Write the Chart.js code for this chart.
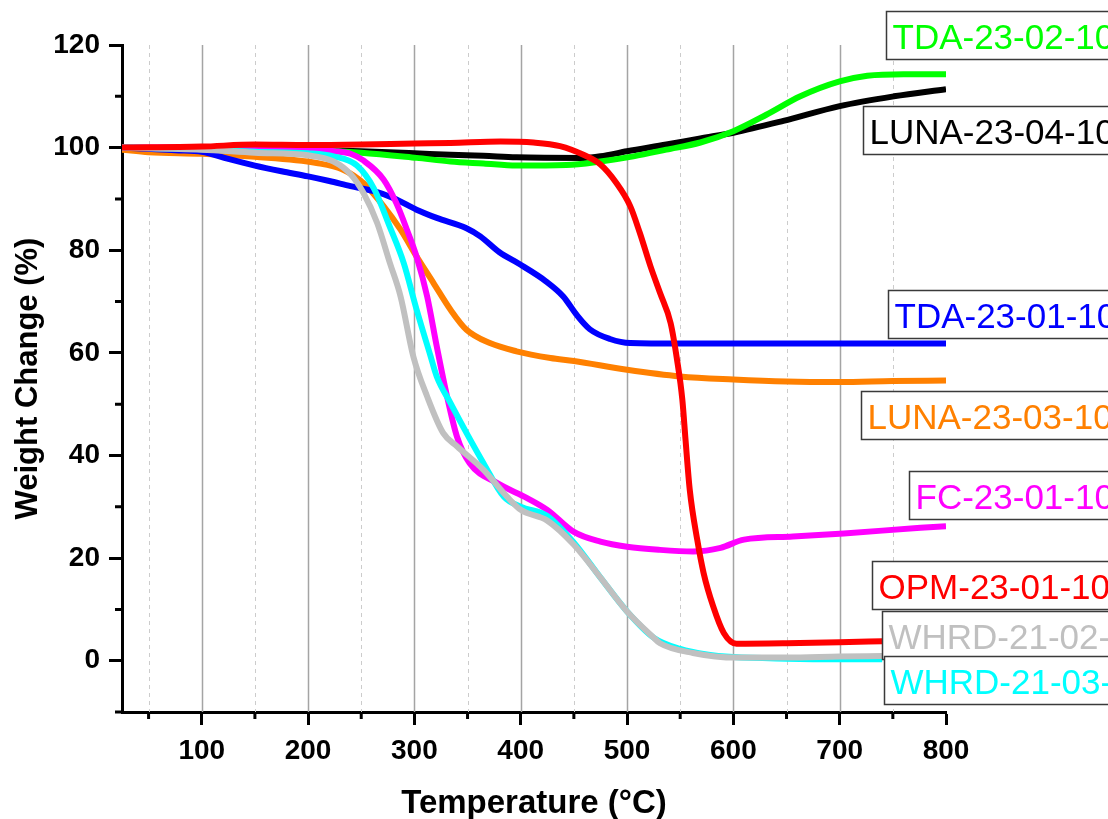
<!DOCTYPE html>
<html>
<head>
<meta charset="utf-8">
<title>TGA weight change</title>
<script src="https://cdn.jsdelivr.net/npm/chart.js@4.4.1/dist/chart.umd.min.js"></script>
<style>
  html, body { margin: 0; padding: 0; background: #ffffff; }
  canvas { display: block; }
</style>
</head>
<body>
<canvas id="tgaChart" width="1108" height="819"></canvas>
<script>
// temperature (°C) and weight change (%) read for each sample

var opmTemp = [25, 100, 150, 200, 250, 300, 334, 381, 412, 437, 459, 475, 490, 503, 512, 522, 531, 541, 547, 552, 555, 559, 566, 572, 581, 591, 603, 650, 700, 740];
var opmWeight = [100, 100.2, 100.6, 100.5, 100.6, 100.8, 100.9, 101.2, 101.0, 100.3, 98.6, 96.7, 93.1, 88.6, 83.4, 76.9, 71.7, 65.8, 58.7, 50.9, 43.1, 33.3, 23.6, 17.1, 10.6, 5.4, 3.3, 3.4, 3.6, 3.8];

var whrd2102Temp = [25, 100, 150, 200, 224, 240, 252, 265, 277, 287, 299, 312, 327, 340, 365, 387, 400, 425, 450, 475, 500, 525, 531, 562, 603, 650, 700, 740];
var whrd2102Weight = [100, 99.6, 99.0, 98.5, 97.3, 94.8, 91.2, 85.3, 77.5, 71.0, 59.3, 51.5, 44.4, 41.8, 37.2, 32.0, 29.4, 27.3, 22.6, 16.2, 9.6, 4.5, 3.4, 1.5, 0.6, 0.6, 0.8, 0.9];

var whrd2103Temp = [25, 100, 150, 200, 224, 246, 262, 277, 290, 302, 315, 321, 334, 349, 365, 384, 400, 425, 450, 475, 500, 525, 550, 575, 600, 650, 700, 740];
var whrd2103Weight = [100, 99.7, 99.2, 98.9, 98.3, 96.5, 92.0, 84.5, 77.5, 68.5, 59.5, 55.4, 50.2, 44.4, 38.5, 32.0, 30.0, 28.2, 23.0, 16.2, 9.6, 4.5, 2.3, 1.2, 0.7, 0.4, 0.3, 0.3];

var fc2301Temp = [25, 100, 150, 200, 225, 240, 252, 271, 283, 293, 302, 312, 321, 330, 340, 352, 378, 406, 425, 450, 475, 500, 531, 562, 588, 610, 656, 704, 776, 800];
var fc2301Weight = [100, 100.1, 100.0, 99.7, 99.3, 98.8, 97.5, 93.8, 89.2, 84.0, 78.8, 71.0, 61.3, 52.2, 43.7, 38.5, 34.6, 31.7, 29.4, 25.1, 23.2, 22.2, 21.6, 21.3, 22.0, 23.6, 24.2, 24.8, 25.9, 26.2];

var tda2301Temp = [25, 50, 75, 100, 125, 150, 175, 200, 220, 240, 262, 280, 302, 321, 349, 362, 380, 398, 424, 440, 453, 465, 484, 503, 550, 600, 700, 800];
var tda2301Weight = [100, 99.8, 99.5, 99.2, 97.8, 96.5, 95.4, 94.4, 93.5, 92.5, 91.5, 90.2, 87.9, 86.3, 84.3, 82.7, 79.6, 77.4, 73.9, 71.0, 67.3, 64.6, 62.7, 61.9, 61.8, 61.8, 61.8, 61.8];

var luna2303Temp = [25, 50, 100, 150, 208, 233, 252, 271, 287, 302, 318, 334, 349, 371, 396, 428, 450, 500, 550, 600, 650, 700, 750, 800];
var luna2303Weight = [99.6, 99.1, 98.8, 98.2, 97.0, 95.7, 93.1, 88.6, 84.0, 78.8, 73.6, 68.4, 64.5, 61.9, 60.3, 59.0, 58.4, 56.7, 55.4, 54.8, 54.4, 54.3, 54.5, 54.6];

var tda2302Temp = [25, 100, 200, 250, 302, 334, 365, 396, 443, 475, 506, 537, 569, 600, 631, 663, 700, 726, 760, 800];
var tda2302Weight = [100, 99.8, 99.5, 99.0, 98.0, 97.3, 96.9, 96.5, 96.6, 97.3, 98.3, 99.6, 101.0, 103.2, 106.4, 110.0, 112.9, 114.0, 114.3, 114.3];

var luna2304Temp = [25, 100, 200, 250, 300, 334, 365, 396, 459, 475, 500, 537, 569, 600, 647, 700, 751, 800];
var luna2304Weight = [100, 99.8, 99.6, 99.3, 98.9, 98.6, 98.4, 98.1, 98.0, 98.3, 99.3, 100.6, 101.8, 102.9, 105.2, 108.1, 110.0, 111.4];

var sampleNames = ['OPM-23-01-10', 'WHRD-21-02-10', 'WHRD-21-03-10', 'FC-23-01-10', 'TDA-23-01-10', 'LUNA-23-03-10', 'TDA-23-02-10', 'LUNA-23-04-10'];
var sampleColors = ['#ff0000', '#c0c0c0', '#00ffff', '#ff00ff', '#0000ff', '#ff8000', '#00ff00', '#000000'];
var sampleTemps = [opmTemp, whrd2102Temp, whrd2103Temp, fc2301Temp, tda2301Temp, luna2303Temp, tda2302Temp, luna2304Temp];
var sampleWeights = [opmWeight, whrd2102Weight, whrd2103Weight, fc2301Weight, tda2301Weight, luna2303Weight, tda2302Weight, luna2304Weight];

// axis ranges and tick steps
var xMin = 25, xMax = 800, xStep = 50, xLabelStep = 100;
var yMin = -10, yMax = 120, yStep = 10, yLabelStep = 20;

// name tags on the right: sample index, top-left corner in axis units
var tagPlaces = [
    { idx: 6, t: 743.8, w: 126.7 },
    { idx: 7, t: 722.2, w: 108.2 },
    { idx: 4, t: 745.7, w: 72.3 },
    { idx: 5, t: 720.3, w: 52.6 },
    { idx: 3, t: 765.4, w: 37.0 },
    { idx: 0, t: 730.6, w: 19.5 },
    { idx: 1, t: 740.0, w: 9.7 },
    { idx: 2, t: 741.9, w: 1.0 }
];

var FONT = '"Liberation Sans", Arial, Helvetica, sans-serif';

function makeTicks(min, max, step) {
    var out = [];
    var start = Math.ceil(min / step) * step;
    for (var v = start; v <= max; v += step) {
        out.push({ value: v });
    }
    return out;
}

function buildDatasets() {
    var sets = [];
    for (var i = 0; i < sampleNames.length; i++) {
        var pts = [];
        for (var j = 0; j < sampleTemps[i].length; j++) {
            pts.push({ x: sampleTemps[i][j], y: sampleWeights[i][j] });
        }
        sets.push({
            label: sampleNames[i],
            data: pts,
            borderColor: sampleColors[i],
            backgroundColor: sampleColors[i],
            borderWidth: 6,
            pointRadius: 0,
            fill: false,
            cubicInterpolationMode: 'monotone',
            borderCapStyle: 'butt'
        });
    }
    return sets;
}

// vertical grid: solid on the hundreds, dashed on the fifties
var gridPlugin = {
    id: 'tgaGrid',
    beforeDatasetsDraw: function (chart) {
        var ctx = chart.ctx;
        var area = chart.chartArea;
        var xs = chart.scales.x;
        ctx.save();
        for (var v = 50; v < xMax; v += xStep) {
            var px = Math.round(xs.getPixelForValue(v)) + 0.5;
            ctx.beginPath();
            if (v % xLabelStep === 0) {
                ctx.setLineDash([]);
                ctx.strokeStyle = '#a4a4a4';
                ctx.lineWidth = 1.5;
            } else {
                ctx.setLineDash([4, 4]);
                ctx.strokeStyle = '#cccccc';
                ctx.lineWidth = 1;
            }
            ctx.moveTo(px, area.top);
            ctx.lineTo(px, area.bottom);
            ctx.stroke();
        }
        ctx.restore();
    },
    afterDraw: function (chart) {
        // short minor ticks outside the axes
        var ctx = chart.ctx;
        var area = chart.chartArea;
        var xs = chart.scales.x;
        var ys = chart.scales.y;
        ctx.save();
        ctx.strokeStyle = '#000';
        ctx.lineWidth = 3;
        ctx.beginPath();
        for (var v = 50; v <= xMax; v += xLabelStep) {
            var px = xs.getPixelForValue(v);
            ctx.moveTo(px, area.bottom);
            ctx.lineTo(px, area.bottom + 7);
        }
        for (var w = 10; w <= yMax; w += yLabelStep) {
            var py = ys.getPixelForValue(w);
            ctx.moveTo(area.left, py);
            ctx.lineTo(area.left - 7, py);
        }
        // the bottom axis runs a little past the left one
        ctx.moveTo(area.left - 7, area.bottom);
        ctx.lineTo(area.left, area.bottom);
        ctx.stroke();
        ctx.restore();
    }
};

// boxed sample names, running off the right edge
var tagPlugin = {
    id: 'tgaTags',
    afterDraw: function (chart) {
        var ctx = chart.ctx;
        var xs = chart.scales.x;
        var ys = chart.scales.y;
        var boxH = 48;
        ctx.save();
        ctx.font = '35px ' + FONT;
        ctx.textBaseline = 'alphabetic';
        tagPlaces.forEach(function (tag) {
            var left = Math.round(xs.getPixelForValue(tag.t)) + 0.5;
            var top = Math.round(ys.getPixelForValue(tag.w)) + 0.5;
            ctx.fillStyle = '#ffffff';
            ctx.fillRect(left, top, chart.width - left + 20, boxH);
            ctx.strokeStyle = '#3a3a3a';
            ctx.lineWidth = 1.5;
            ctx.strokeRect(left, top, chart.width - left + 20, boxH);
            ctx.fillStyle = sampleColors[tag.idx];
            ctx.fillText(sampleNames[tag.idx], left + 6, top + 37);
        });
        ctx.restore();
    }
};

var myChart = new Chart(document.getElementById('tgaChart'), {
    type: 'line',
    data: { datasets: buildDatasets() },
    plugins: [gridPlugin, tagPlugin],
    options: {
        responsive: false,
        animation: false,
        devicePixelRatio: 1,
        layout: { padding: { top: 45, right: 162, left: 0, bottom: 0 } },
        plugins: {
            legend: { display: false },
            tooltip: { enabled: false }
        },
        scales: {
            x: {
                type: 'linear',
                min: xMin,
                max: xMax,
                afterBuildTicks: function (scale) {
                    scale.ticks = makeTicks(xMin, xMax, xStep);
                },
                afterFit: function (scale) {
                    scale.height = 107;
                },
                grid: {
                    drawOnChartArea: false,
                    drawTicks: true,
                    tickLength: 13,
                    tickWidth: 3,
                    tickColor: function (c) {
                        return c.tick && c.tick.value % xLabelStep === 0 ? '#000' : 'rgba(0,0,0,0)';
                    }
                },
                border: { display: true, color: '#000', width: 3 },
                ticks: {
                    autoSkip: false,
                    maxRotation: 0,
                    padding: 9,
                    color: '#000',
                    font: { family: FONT, size: 28, weight: 'bold' },
                    callback: function (value) {
                        return value % xLabelStep === 0 ? value : '';
                    }
                },
                title: {
                    display: true,
                    text: 'Temperature (°C)',
                    color: '#000',
                    padding: { top: 0, bottom: 0 },
                    font: { family: FONT, size: 33, weight: 'bold', lineHeight: 0.9 }
                }
            },
            y: {
                min: yMin,
                max: yMax,
                afterBuildTicks: function (scale) {
                    scale.ticks = makeTicks(yMin, yMax, yStep);
                },
                afterFit: function (scale) {
                    scale.width = 122;
                },
                grid: {
                    drawOnChartArea: false,
                    drawTicks: true,
                    tickLength: 13,
                    tickWidth: 3,
                    tickColor: function (c) {
                        return c.tick && c.tick.value >= 0 && c.tick.value % yLabelStep === 0 ? '#000' : 'rgba(0,0,0,0)';
                    }
                },
                border: { display: true, color: '#000', width: 3 },
                ticks: {
                    autoSkip: false,
                    padding: 9,
                    color: '#000',
                    font: { family: FONT, size: 28, weight: 'bold' },
                    callback: function (value) {
                        return value >= 0 && value % yLabelStep === 0 ? value : '';
                    }
                },
                title: {
                    display: true,
                    text: 'Weight Change (%)',
                    color: '#000',
                    padding: { top: 10, bottom: 0 },
                    font: { family: FONT, size: 31, weight: 'bold' }
                }
            }
        }
    }
});
</script>
</body>
</html>
